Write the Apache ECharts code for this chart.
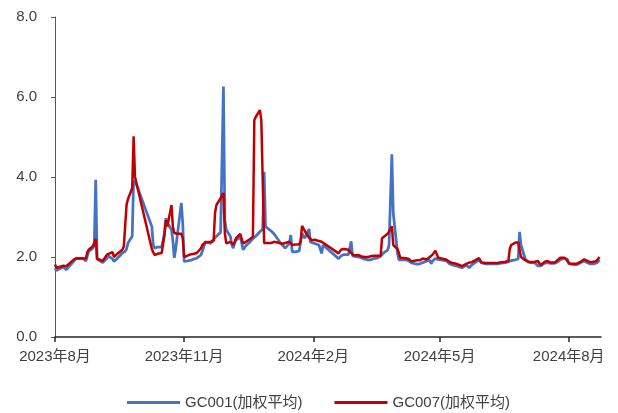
<!DOCTYPE html>
<html>
<head>
<meta charset="utf-8">
<script src="https://cdn.jsdelivr.net/npm/echarts@6/dist/echarts.min.js"></script>
<style>
  html, body { margin: 0; padding: 0; background: #fff; }
  #chart { width: 618px; height: 413px; }
</style>
</head>
<body>
<div id="chart"></div>
<script>
// Trading dates shared by both series
const dates = [
  '2023-08-01','2023-08-02','2023-08-04','2023-08-07','2023-08-09','2023-08-11','2023-08-14','2023-08-16','2023-08-18','2023-08-21',
  '2023-08-23','2023-08-24','2023-08-25','2023-08-28','2023-08-29','2023-08-30','2023-08-31','2023-09-01','2023-09-04','2023-09-05',
  '2023-09-07','2023-09-08','2023-09-11','2023-09-12','2023-09-13','2023-09-14','2023-09-15','2023-09-18','2023-09-19','2023-09-20',
  '2023-09-21','2023-09-22','2023-09-25','2023-09-26','2023-09-27','2023-09-28','2023-10-09','2023-10-10','2023-10-11','2023-10-12',
  '2023-10-13','2023-10-16','2023-10-17','2023-10-18','2023-10-19','2023-10-20','2023-10-23','2023-10-24','2023-10-25','2023-10-26',
  '2023-10-27','2023-10-30','2023-10-31','2023-11-01','2023-11-02','2023-11-03','2023-11-06','2023-11-08','2023-11-10','2023-11-13',
  '2023-11-14','2023-11-15','2023-11-16','2023-11-17','2023-11-20','2023-11-21','2023-11-22','2023-11-23','2023-11-24','2023-11-27',
  '2023-11-28','2023-11-29','2023-11-30','2023-12-01','2023-12-04','2023-12-05','2023-12-06','2023-12-07','2023-12-08','2023-12-11',
  '2023-12-12','2023-12-13','2023-12-14','2023-12-15','2023-12-18','2023-12-19','2023-12-20','2023-12-21','2023-12-22','2023-12-25',
  '2023-12-26','2023-12-27','2023-12-28','2023-12-29','2024-01-02','2024-01-03','2024-01-04','2024-01-05','2024-01-08','2024-01-09',
  '2024-01-10','2024-01-11','2024-01-12','2024-01-15','2024-01-16','2024-01-17','2024-01-18','2024-01-19','2024-01-22','2024-01-23',
  '2024-01-24','2024-01-25','2024-01-26','2024-01-29','2024-01-30','2024-01-31','2024-02-01','2024-02-02','2024-02-05','2024-02-06',
  '2024-02-07','2024-02-08','2024-02-19','2024-02-20','2024-02-21','2024-02-22','2024-02-23','2024-02-26','2024-02-27','2024-02-28',
  '2024-02-29','2024-03-01','2024-03-04','2024-03-05','2024-03-06','2024-03-07','2024-03-08','2024-03-11','2024-03-12','2024-03-13',
  '2024-03-14','2024-03-15','2024-03-18','2024-03-19','2024-03-20','2024-03-21','2024-03-22','2024-03-25','2024-03-26','2024-03-27',
  '2024-03-28','2024-03-29','2024-04-01','2024-04-02','2024-04-03','2024-04-07','2024-04-08','2024-04-09','2024-04-10','2024-04-11',
  '2024-04-12','2024-04-15','2024-04-16','2024-04-17','2024-04-18','2024-04-19','2024-04-22','2024-04-23','2024-04-24','2024-04-25',
  '2024-04-26','2024-04-28','2024-04-29','2024-04-30','2024-05-06','2024-05-07','2024-05-08','2024-05-09','2024-05-10','2024-05-13',
  '2024-05-14','2024-05-15','2024-05-16','2024-05-17','2024-05-20','2024-05-21','2024-05-22','2024-05-23','2024-05-24','2024-05-27',
  '2024-05-28','2024-05-29','2024-05-30','2024-05-31','2024-06-03','2024-06-04','2024-06-05','2024-06-06','2024-06-07','2024-06-11',
  '2024-06-12','2024-06-13','2024-06-14','2024-06-17','2024-06-18','2024-06-19','2024-06-20','2024-06-21','2024-06-24','2024-06-25',
  '2024-06-26','2024-06-27','2024-06-28','2024-07-01','2024-07-02','2024-07-03','2024-07-04','2024-07-05','2024-07-08','2024-07-09',
  '2024-07-10','2024-07-11','2024-07-12','2024-07-15','2024-07-16','2024-07-17','2024-07-18','2024-07-19','2024-07-22','2024-07-23',
  '2024-07-24','2024-07-25','2024-07-26','2024-07-29','2024-07-30','2024-07-31','2024-08-01','2024-08-02','2024-08-05','2024-08-06',
  '2024-08-07','2024-08-08','2024-08-09','2024-08-12','2024-08-13','2024-08-14','2024-08-15','2024-08-16','2024-08-19','2024-08-20',
  '2024-08-21','2024-08-22','2024-08-23'
];

// GC001 weighted average rate (%)
const gc001 = [
  1.72,1.66,1.70,1.75,1.68,1.76,1.88,1.97,1.96,1.97,
  1.90,2.02,2.14,2.22,2.30,3.93,1.95,1.92,1.86,1.81,
  1.97,2.03,1.95,1.89,1.92,1.95,1.98,2.10,2.13,2.14,
  2.20,2.35,2.52,3.90,3.88,3.82,2.76,2.30,2.22,2.22,
  2.25,2.25,2.27,2.60,2.97,2.85,2.68,2.40,1.98,2.20,
  2.50,3.35,2.85,1.89,1.88,1.90,1.92,1.95,1.97,2.05,
  2.09,2.25,2.38,2.36,2.34,2.40,2.42,2.48,2.52,2.62,
  2.65,6.26,2.92,2.68,2.51,2.30,2.22,2.35,2.42,2.50,
  2.35,2.18,2.20,2.28,2.38,2.42,2.46,2.50,2.52,2.63,
  2.65,2.70,4.13,2.76,2.65,2.60,2.58,2.55,2.38,2.33,
  2.30,2.25,2.22,2.34,2.55,2.13,2.13,2.13,2.15,2.20,
  2.59,2.55,2.47,2.70,2.37,2.35,2.35,2.33,2.30,2.30,
  2.09,2.30,1.96,1.98,2.03,2.06,2.06,2.06,2.10,2.39,
  2.03,2.00,2.00,1.97,1.98,1.96,1.95,1.93,1.94,1.93,
  1.95,1.96,1.98,2.00,2.02,2.05,2.10,2.17,2.30,2.30,
  4.57,3.10,2.10,1.93,1.95,1.93,1.92,1.90,1.89,1.85,
  1.81,1.82,1.83,1.83,1.84,1.86,1.90,1.92,1.92,1.83,
  1.90,1.96,1.95,1.94,1.90,1.86,1.83,1.80,1.80,1.78,
  1.77,1.75,1.72,1.73,1.80,1.78,1.73,1.74,1.80,1.88,
  1.90,1.92,1.90,1.85,1.83,1.83,1.83,1.83,1.83,1.83,
  1.83,1.84,1.85,1.86,1.87,1.88,1.90,1.91,1.93,1.90,
  1.95,2.63,2.30,1.95,1.90,1.87,1.86,1.86,1.85,1.82,
  1.78,1.73,1.78,1.85,1.86,1.86,1.85,1.84,1.84,1.85,
  1.88,1.92,1.93,1.97,2.01,1.95,1.83,1.82,1.81,1.80,
  1.81,1.83,1.85,1.90,1.88,1.86,1.84,1.83,1.83,1.83,
  1.85,1.88,1.93
];

// GC007 weighted average rate (%)
const gc007 = [
  1.81,1.73,1.75,1.78,1.77,1.83,1.93,1.96,1.97,1.96,
  1.96,2.12,2.18,2.27,2.30,2.45,1.96,1.94,1.90,1.87,
  2.06,2.10,2.12,2.00,2.03,2.07,2.08,2.18,2.26,2.31,
  3.31,3.45,3.72,5.02,4.00,3.85,2.20,2.12,2.05,2.06,
  2.08,2.10,2.12,2.55,2.92,2.76,3.30,2.75,2.60,2.60,
  2.58,2.58,2.47,2.00,2.00,2.03,2.07,2.08,2.10,2.22,
  2.30,2.33,2.36,2.38,2.38,2.38,2.40,3.10,3.30,3.47,
  3.45,3.60,2.60,2.34,2.38,2.35,2.30,2.38,2.47,2.58,
  2.45,2.34,2.34,2.38,2.45,2.50,2.51,5.42,5.50,5.67,
  5.42,3.90,2.35,2.35,2.35,2.35,2.38,2.38,2.35,2.35,
  2.33,2.35,2.35,2.38,2.42,2.30,2.30,2.31,2.32,2.40,
  2.78,2.77,2.65,2.48,2.45,2.42,2.43,2.43,2.40,2.39,
  2.38,2.35,2.09,2.14,2.19,2.20,2.20,2.18,2.13,2.10,
  2.06,2.04,2.05,2.03,2.02,2.00,2.00,2.00,2.02,2.02,
  2.02,2.03,2.03,2.03,2.03,2.47,2.50,2.58,2.63,2.70,
  2.77,2.30,2.20,2.10,1.98,1.97,1.97,1.95,1.92,1.89,
  1.89,1.92,1.93,1.92,1.94,1.96,1.94,1.93,2.00,2.02,
  2.06,2.16,2.12,1.98,1.93,1.91,1.88,1.86,1.85,1.83,
  1.82,1.80,1.78,1.77,1.83,1.85,1.86,1.87,1.87,1.93,
  1.96,1.97,1.98,1.86,1.85,1.85,1.85,1.85,1.85,1.85,
  1.86,1.86,1.87,1.88,1.88,1.90,2.20,2.30,2.36,2.35,
  2.36,2.37,2.00,1.92,1.90,1.89,1.88,1.87,1.88,1.89,
  1.90,1.85,1.80,1.88,1.91,1.90,1.88,1.86,1.86,1.87,
  1.92,1.97,1.98,1.98,1.97,1.90,1.85,1.83,1.83,1.83,
  1.84,1.86,1.87,1.94,1.95,1.91,1.88,1.87,1.88,1.90,
  1.91,1.95,2.00
];

// Quarterly tick positions on the date axis and their labels
const tickDates = ['2023-08-01', '2023-11-01', '2024-02-01', '2024-05-01', '2024-08-01'];
const tickLabels = ['2023年8月', '2023年11月', '2024年2月', '2024年5月', '2024年8月'];
const seriesNames = ['GC001(加权平均)', 'GC007(加权平均)'];

function toTime(s) {
  const p = s.split('-').map(Number);
  return new Date(p[0], p[1] - 1, p[2]).getTime();
}

const tickTimes = tickDates.map(toTime);
const FONT = '"Liberation Sans", Arial, "Noto Sans CJK SC", sans-serif';

const chart = echarts.init(document.getElementById('chart'), null, { renderer: 'canvas' });
chart.setOption({
  animation: false,
  backgroundColor: '#ffffff',
  textStyle: { fontFamily: FONT },
  grid: { left: 55, right: 17, top: 17, bottom: 76, containLabel: false },
  legend: {
    left: 122,
    top: 390,
    itemWidth: 53,
    itemHeight: 3,
    itemGap: 32,
    icon: 'rect',
    textStyle: { fontSize: 15, color: '#404040', fontFamily: FONT },
    data: seriesNames
  },
  xAxis: {
    // timestamps on a linear scale, ticks only at the quarter starts
    type: 'value',
    min: toTime('2023-08-01'),
    max: toTime('2024-08-24'),
    axisLine: { show: true, onZero: false, lineStyle: { color: '#262626', width: 1.5 } },
    axisTick: { show: true, length: 5, customValues: tickTimes, lineStyle: { color: '#262626', width: 1.5 } },
    axisLabel: {
      customValues: tickTimes,
      showMinLabel: true,
      showMaxLabel: true,
      margin: 12,
      fontSize: 15,
      color: '#404040',
      fontFamily: FONT,
      formatter: function (v) {
        const i = tickTimes.indexOf(v);
        return i >= 0 ? tickLabels[i] : '';
      }
    },
    splitLine: { show: false }
  },
  yAxis: {
    type: 'value',
    min: 0,
    max: 8,
    interval: 2,
    axisLine: { show: true, lineStyle: { color: '#595959', width: 1 } },
    axisTick: { show: true, inside: false, length: 4, lineStyle: { color: '#595959' } },
    axisLabel: {
      margin: 18,
      fontSize: 15,
      color: '#404040',
      fontFamily: FONT,
      formatter: function (v) { return v.toFixed(1); }
    },
    splitLine: { show: false }
  },
  series: [
    {
      name: seriesNames[0],
      type: 'line',
      showSymbol: false,
      symbol: 'none',
      color: '#4472C4',
      lineStyle: { color: '#4472C4', width: 2.75 },
      data: dates.map((d, i) => [toTime(d), gc001[i]])
    },
    {
      name: seriesNames[1],
      type: 'line',
      showSymbol: false,
      symbol: 'none',
      color: '#C00000',
      lineStyle: { color: '#C00000', width: 2.5 },
      data: dates.map((d, i) => [toTime(d), gc007[i]])
    }
  ]
});
</script>
</body>
</html>
